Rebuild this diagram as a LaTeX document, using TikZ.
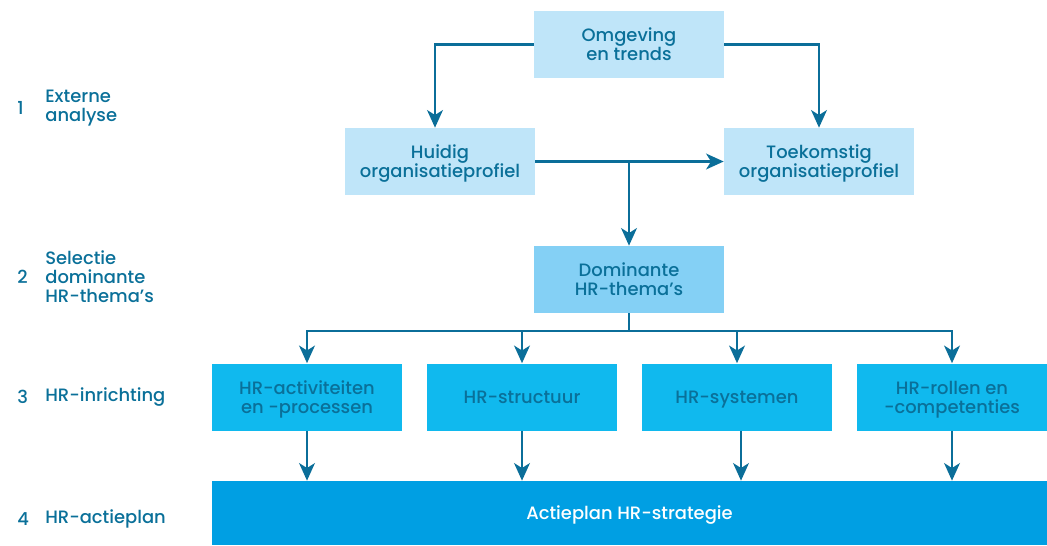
\documentclass[tikz,border=0pt]{standalone}
\usepackage{fontspec}
\setmainfont{Poppins}[UprightFont={* Medium}]
\usepackage{tikz}
\usetikzlibrary{arrows.meta, positioning, calc}

\definecolor{lineblue}{HTML}{0B6E99}
\definecolor{txtblue}{HTML}{0A7099}
\definecolor{pale}{HTML}{BFE5F9}
\definecolor{mid}{HTML}{84D0F5}
\definecolor{bright}{HTML}{10B9EE}
\definecolor{deep}{HTML}{009FE3}

\tikzset{
  box/.style={fill=pale, text=txtblue, minimum width=3.8cm, minimum height=1.34cm,
    align=center, inner sep=0pt, text depth=-5pt, font=\fontsize{10.2}{10.8}\selectfont},
  label/.style={text=txtblue, align=left, anchor=west, inner sep=0pt,
    font=\fontsize{10.2}{10.8}\selectfont},
  link/.style={draw=lineblue, line width=1.2pt}
}

\begin{document}
\begin{tikzpicture}[>={Stealth[length=10pt,width=9pt,inset=2.8pt]}, x=0.02cm, y=-0.02cm]
  \useasboundingbox (0,0) rectangle (1047,545);

  % top part
  \node[box] (omg) at (629,44.5) {Omgeving\\en trends};
  \node[box] (huidig) at (440,161.5) {Huidig\\organisatieprofiel};
  \node[box] (toek) at (819,161.5) {Toekomstig\\organisatieprofiel};
  \node[box, fill=mid] (dom) at (629,279.5) {Dominante\\HR-thema's};

  % HR-inrichting
  \node[box, fill=bright] (hract) at (307,397) {HR-activiteiten\\en -processen};
  \node[box, fill=bright] (hrstruct) at (522,397) {HR-structuur};
  \node[box, fill=bright] (hrsys) at (737,397) {HR-systemen};
  \node[box, fill=bright] (hrrol) at (952,397) {HR-rollen en\\-competenties};

  \node[box, fill=deep, text=white, text depth=-7pt, minimum width=16.7cm, minimum height=1.28cm]
    (plan) at (629.5,513) {Actieplan HR-strategie};

  % left labels
  \node[label] (num1) at (17,108) {1};
  \node[label] (lab1) at (45,108) {Externe\\analyse};
  \node[label] (num2) at (17,277) {2};
  \node[label] (lab2) at (45,277) {Selectie\\dominante\\HR-thema's};
  \node[label] (num3) at (17,397) {3};
  \node[label] (lab3) at (45,397) {HR-inrichting};
  \node[label] (num4) at (17,519) {4};
  \node[label] (lab4) at (45,519) {HR-actieplan};

  % connectors
  \coordinate (split) at (dom.north |- huidig.east);
  \coordinate (bus) at ($(dom.south)+(0,18)$);

  \draw[link, ->] (omg.west) -| ($(huidig.north)+(-5,0)$);
  \draw[link, ->] (omg.east) -| (toek.north);
  \draw[link, ->] (huidig.east) -- (toek.west);
  \draw[link, ->] (split) -- (dom.north);
  \draw[link] (dom.south) -- (bus);
  \foreach \n in {hract, hrstruct, hrsys, hrrol}
    \draw[link, ->] (bus) -| (\n.north);
  \foreach \n in {hract, hrstruct, hrrol}
    \draw[link, ->] (\n.south) -- (\n.south |- plan.north);
  \draw[link, ->] ($(hrsys.south)+(4,0)$) -- ($(hrsys.south |- plan.north)+(4,0)$);
\end{tikzpicture}
\end{document}
